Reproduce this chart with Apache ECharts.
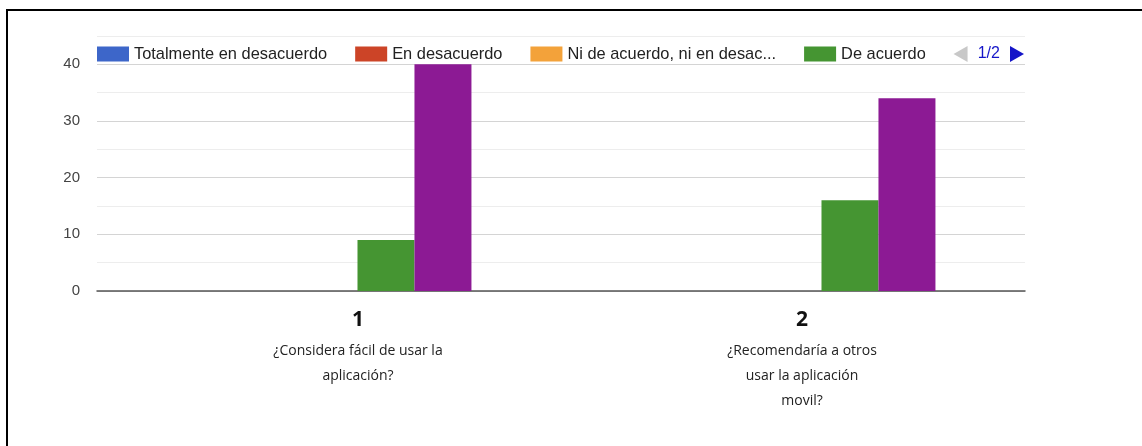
<!DOCTYPE html>
<html>
<head>
<meta charset="utf-8">
<script src="https://cdn.jsdelivr.net/npm/echarts@6/dist/echarts.min.js"></script>
<style>
  html, body { margin: 0; padding: 0; background: #ffffff; }
  #chart { width: 1142px; height: 446px; }
</style>
</head>
<body>
<div id="chart"></div>
<script>
// Survey answers per question
const categories = ['1', '2'];
const questions = [
  '¿Considera fácil de usar la\naplicación?',
  '¿Recomendaría a otros\nusar la aplicación\nmovil?'
];
const seriesNames = [
  'Totalmente en desacuerdo',
  'En desacuerdo',
  'Ni de acuerdo, ni en desacuerdo',
  'De acuerdo',
  'Totalmente de acuerdo'
];
const totalmenteEnDesacuerdo = [0, 0];
const enDesacuerdo = [0, 0];
const niDeAcuerdo = [0, 0];
const deAcuerdo = [9, 16];
const totalmenteDeAcuerdo = [40, 34];
const yTickLabels = [0, 10, 20, 30, 40];

const seriesValues = [totalmenteEnDesacuerdo, enDesacuerdo, niDeAcuerdo, deAcuerdo, totalmenteDeAcuerdo];
const colors = ['#3d66c9', '#cc4427', '#f3a23a', '#459532', '#8c1a94'];
// horizontal nudge of each question label under its group
const labelShift = [58, 18];

const chart = echarts.init(document.getElementById('chart'));

chart.setOption({
  backgroundColor: '#ffffff',
  animation: false,
  color: colors,
  graphic: [{
    type: 'polyline',
    shape: { points: [[7, 446], [7, 10], [1142, 10]] },
    style: { stroke: '#000000', lineWidth: 2, fill: null }
  }],
  legend: {
    type: 'scroll',
    left: 97,
    width: 927,
    top: 46,
    padding: 0,
    icon: 'rect',
    itemWidth: 32,
    itemHeight: 15,
    itemGap: 28,
    textStyle: { fontFamily: 'Liberation Sans', fontSize: 16.4, color: '#222222' },
    formatter: name => name.length > 26 ? name.slice(0, 26) + '...' : name,
    pageIcons: {
      horizontal: ['path://M14,0L0,8L14,16Z', 'path://M0,0L14,8L0,16Z']
    },
    pageIconColor: '#1515c8',
    pageIconInactiveColor: '#c8c8c8',
    pageIconSize: [15, 16],
    pageButtonItemGap: 3,
    pageTextStyle: { fontFamily: 'Liberation Sans', fontSize: 16, color: '#1515c8' },
    data: seriesNames
  },
  grid: { left: 97, right: 117, top: 36, bottom: 155, containLabel: false },
  xAxis: {
    type: 'category',
    data: categories.map((c, i) => ({
      value: c,
      textStyle: { padding: [0, 0, 0, labelShift[i]] }
    })),
    axisLine: { lineStyle: { color: '#555555', width: 1.5 } },
    axisTick: { show: false },
    axisLabel: {
      margin: 10,
      interval: 0,
      formatter: (value, idx) =>
        '{n|' + value + '}\n' +
        questions[idx].split('\n').map(l => '{q|' + l + '}').join('\n'),
      rich: {
        n: { fontFamily: 'Open Sans', fontWeight: 'bold', fontSize: 21, color: '#111111', lineHeight: 38 },
        q: { fontFamily: 'Open Sans', fontSize: 14, color: '#222222', lineHeight: 25 }
      }
    }
  },
  yAxis: {
    type: 'value',
    min: 0,
    max: 45,
    interval: 5,
    axisLine: { show: false },
    axisTick: { show: false },
    axisLabel: {
      margin: 17,
      fontFamily: 'Liberation Sans',
      fontSize: 15,
      color: '#444444',
      formatter: v => yTickLabels.includes(v) ? String(v) : ''
    },
    splitLine: { lineStyle: { color: ['#d4d4d4', '#ededed'], width: 1 } }
  },
  series: seriesNames.map((name, i) => ({
    name: name,
    type: 'bar',
    data: seriesValues[i],
    barGap: '0%',
    barCategoryGap: '38.6%',
    itemStyle: { color: colors[i] }
  }))
});
</script>
</body>
</html>
